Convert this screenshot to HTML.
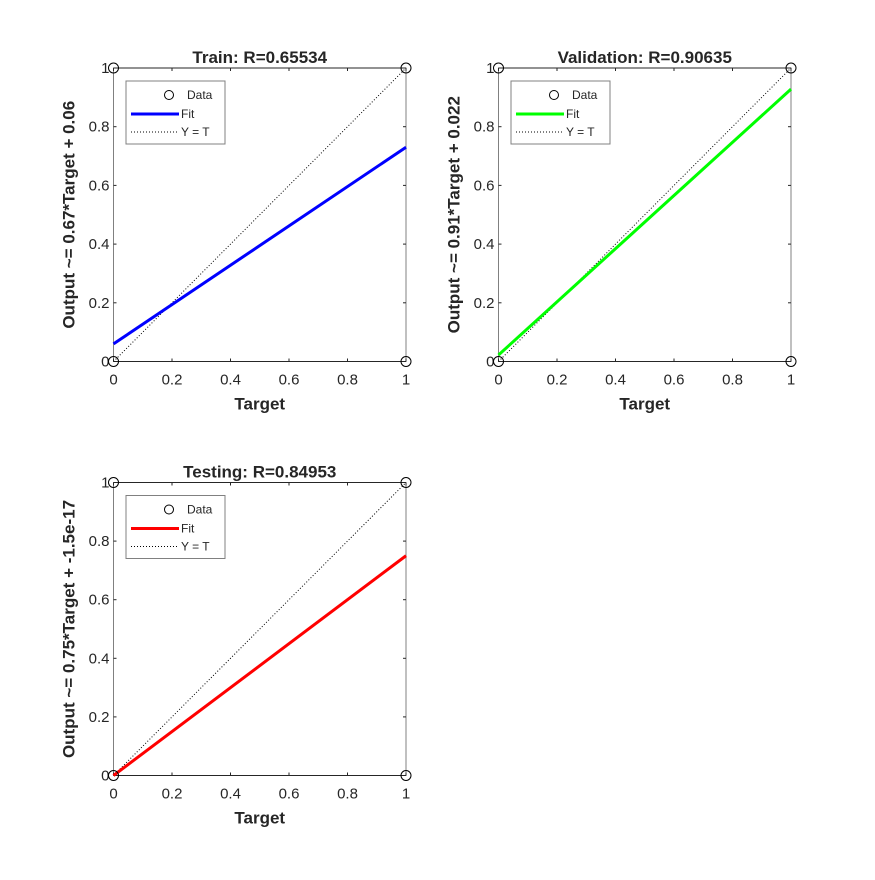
<!DOCTYPE html>
<html><head><meta charset="utf-8"><style>
body{margin:0;background:#fff}
svg text{font-family:"Liberation Sans",sans-serif;fill:#262626}
</style></head><body>
<svg id="fig" width="875" height="875" xmlns="http://www.w3.org/2000/svg"></svg>
<script>
const panelTitles = ["Train: R=0.65534", "Validation: R=0.90635", "Testing: R=0.84953"];
const yLabels = ["Output ~= 0.67*Target + 0.06", "Output ~= 0.91*Target + 0.022", "Output ~= 0.75*Target + -1.5e-17"];
const fitSlopes = [0.67, 0.906, 0.75];
const fitIntercepts = [0.06, 0.022, 0];
const fitColors = ["#0000ff", "#00ff00", "#ff0000"];
const dataX = [0, 0, 1, 1];
const dataY = [0, 1, 0, 1];
const ticks = [0, 0.2, 0.4, 0.6, 0.8, 1];
const tickLabels = ["0", "0.2", "0.4", "0.6", "0.8", "1"];
const boxes = [{x0:113.5,x1:406,y0:361.5,y1:68},{x0:498.5,x1:791,y0:361.5,y1:68},{x0:113.5,x1:406,y0:775.5,y1:482.5}];
const NS="http://www.w3.org/2000/svg", svg=document.getElementById('fig');
function mk(t,a,p){const e=document.createElementNS(NS,t);for(const k in a)e.setAttribute(k,a[k]);(p||svg).appendChild(e);return e;}
panelTitles.forEach((title,i)=>{
  const b=boxes[i];
  const sx=v=>b.x0+v*(b.x1-b.x0), sy=v=>b.y0+v*(b.y1-b.y0);
  const g=mk('g',{});
  
  
  mk('rect',{x:b.x0,y:b.y1,width:b.x1-b.x0,height:b.y0-b.y1,fill:'#fff',stroke:'#808080','stroke-width':1},g);
  mk('line',{x1:b.x0,y1:b.y0,x2:b.x1,y2:b.y0,stroke:'#262626'},g);
  mk('line',{x1:b.x0,y1:b.y1,x2:b.x1,y2:b.y1,stroke:'#262626'},g);
  ticks.forEach((t,k)=>{
    mk('line',{x1:sx(t),y1:b.y0,x2:sx(t),y2:b.y0-3,stroke:'#262626'},g);
    mk('line',{x1:sx(t),y1:b.y1,x2:sx(t),y2:b.y1+3,stroke:'#262626'},g);
    mk('line',{x1:b.x0,y1:sy(t),x2:b.x0+3,y2:sy(t),stroke:'#262626'},g);
    mk('line',{x1:b.x1,y1:sy(t),x2:b.x1-3,y2:sy(t),stroke:'#262626'},g);
    const xt=mk('text',{x:sx(t),y:b.y0+23,'font-size':15,'text-anchor':'middle'},g);xt.textContent=tickLabels[k];
    
    const yt=mk('text',{x:b.x0-4,y:sy(t)+5,'font-size':15,'text-anchor':'end'},g);yt.textContent=tickLabels[k];
    
  });
  const ident=mk('line',{x1:sx(0),y1:sy(0),x2:sx(1),y2:sy(1),stroke:'#000','stroke-width':1,'stroke-dasharray':'1,2'},g);
  
  const fit=mk('line',{x1:sx(0),y1:sy(fitIntercepts[i]),x2:sx(1),y2:sy(fitSlopes[i]+fitIntercepts[i]),stroke:fitColors[i],'stroke-width':3},g);
  
  dataX.forEach((x,k)=>{
    const c=mk('circle',{cx:sx(x),cy:sy(dataY[k]),r:5,fill:'none',stroke:'#000'},g);
    
  });
  const tt=mk('text',{x:(b.x0+b.x1)/2,y:b.y1-5,'font-size':17,'font-weight':'bold','text-anchor':'middle',fill:'#000'},g);tt.textContent=title;
  
  const xl=mk('text',{x:(b.x0+b.x1)/2,y:b.y0+48,'font-size':17,'font-weight':'bold','text-anchor':'middle'},g);xl.textContent='Target';
  
  const cy=(b.y0+b.y1)/2;
  const yl=mk('text',{x:b.x0-39,y:cy,'font-size':17,'font-weight':'bold','text-anchor':'middle',transform:`rotate(-90 ${b.x0-39} ${cy})`},g);yl.textContent=yLabels[i];
  
  const lg=mk('g',{},g);
  
  
  const lx=b.x0+12.5, ly=b.y1+13;
  mk('rect',{x:lx,y:ly,width:99,height:63,fill:'#fff',stroke:'#808080'},lg);
  mk('circle',{cx:lx+43,cy:ly+14,r:4.5,fill:'none',stroke:'#000'},lg);
  mk('line',{x1:lx+5,y1:ly+33,x2:lx+53,y2:ly+33,stroke:fitColors[i],'stroke-width':3},lg);
  mk('line',{x1:lx+5,y1:ly+51,x2:lx+53,y2:ly+51,stroke:'#000','stroke-dasharray':'1,2'},lg);
  [['Data',ly+18,lx+61],['Fit',ly+37,lx+55],['Y = T',ly+55,lx+55]].forEach(([s,y,x])=>{const t=mk('text',{x:x,y:y,'font-size':12,fill:'#000'},lg);t.textContent=s;});
});
</script>
</body></html>
